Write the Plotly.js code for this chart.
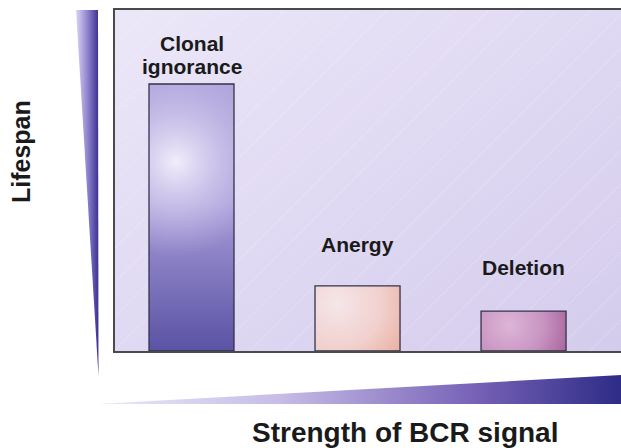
<!DOCTYPE html>
<html>
<head>
<meta charset="utf-8">
<script src="https://cdn.plot.ly/plotly-3.0.1.min.js"></script>
<style>html,body{margin:0;padding:0;background:#fff;}#chart{width:621px;height:448px;}</style>
</head>
<body>
<div id="chart"></div>
<script>
// ---- data ----
var categories = ['Clonal ignorance', 'Anergy', 'Deletion'];
var barLabels = [['Clonal', 'ignorance'], ['Anergy'], ['Deletion']];
var lifespan = [78.3, 19.1, 11.7];
var xTitle = 'Strength of BCR signal';
var yTitle = 'Lifespan';

// ---- layout constants ----
var W = 621, H = 448;
var M = {l: 115, r: 0, t: 10, b: 97};
var PW = W - M.l - M.r, PH = H - M.t - M.b;
var barWidth = 0.512;
var FONT = '"Liberation Sans", Arial, sans-serif';

function svgURI(s) { return 'data:image/svg+xml;charset=utf-8,' + encodeURIComponent(s); }

// background of plot area with faint diagonal lines
var bgSvg = '<svg xmlns="http://www.w3.org/2000/svg" width="' + PW + '" height="' + PH + '" viewBox="0 0 ' + PW + ' ' + PH + '" preserveAspectRatio="none">' +
  '<defs><linearGradient id="g" x1="0" y1="0" x2="1" y2="1">' +
  '<stop offset="0" stop-color="#ece7f8"/><stop offset="0.5" stop-color="#e0d9f3"/><stop offset="1" stop-color="#d4ccec"/></linearGradient>' +
  '<pattern id="p" width="34" height="34" patternUnits="userSpaceOnUse">' +
  '<line x1="-1" y1="35" x2="35" y2="-1" stroke="#ffffff" stroke-opacity="0.35" stroke-width="0.6"/></pattern></defs>' +
  '<rect width="' + PW + '" height="' + PH + '" fill="url(#g)"/>' +
  '<rect width="' + PW + '" height="' + PH + '" fill="url(#p)"/></svg>';

// decorative wedges around the plot
var wedgeSvg = '<svg xmlns="http://www.w3.org/2000/svg" width="' + W + '" height="' + H + '" viewBox="0 0 ' + W + ' ' + H + '" preserveAspectRatio="none">' +
  '<defs><linearGradient id="lw" gradientUnits="userSpaceOnUse" x1="76" y1="0" x2="98" y2="0">' +
  '<stop offset="0" stop-color="#dcd5f3"/><stop offset="0.5" stop-color="#9487d0"/><stop offset="1" stop-color="#3d3494"/></linearGradient>' +
  '<linearGradient id="bw" gradientUnits="userSpaceOnUse" x1="97" y1="0" x2="621" y2="0">' +
  '<stop offset="0" stop-color="#ebe8f8"/><stop offset="0.35" stop-color="#c6bce6"/><stop offset="0.72" stop-color="#7762b7"/><stop offset="1" stop-color="#2d2c86"/></linearGradient></defs>' +
  '<polygon points="76,10 98,10 98.5,376" fill="url(#lw)"/>' +
  '<polygon points="97,404 621,375 621,404" fill="url(#bw)"/></svg>';

var barSvgs = [
  '<svg xmlns="http://www.w3.org/2000/svg" width="85" height="267" viewBox="0 0 85 267" preserveAspectRatio="none"><defs>' +
  '<linearGradient id="a" x1="0" y1="0" x2="0" y2="1"><stop offset="0" stop-color="#b1a5dc"/><stop offset="0.45" stop-color="#a79bd8"/><stop offset="1" stop-color="#5a52a4"/></linearGradient>' +
  '<radialGradient id="r" gradientUnits="userSpaceOnUse" cx="27" cy="78" r="95"><stop offset="0" stop-color="#f1eefb" stop-opacity="1"/><stop offset="0.6" stop-color="#d8d1f0" stop-opacity="0.45"/><stop offset="1" stop-color="#c8bfea" stop-opacity="0"/></radialGradient></defs>' +
  '<rect width="85" height="267" fill="url(#a)"/><rect width="85" height="267" fill="url(#r)"/></svg>',
  '<svg xmlns="http://www.w3.org/2000/svg" width="85" height="65" viewBox="0 0 85 65" preserveAspectRatio="none"><defs>' +
  '<radialGradient id="r" gradientUnits="userSpaceOnUse" cx="22" cy="18" r="75"><stop offset="0" stop-color="#f5e6ea"/><stop offset="0.6" stop-color="#f1d0cd"/><stop offset="1" stop-color="#ebb3a7"/></radialGradient></defs>' +
  '<rect width="85" height="65" fill="url(#r)"/></svg>',
  '<svg xmlns="http://www.w3.org/2000/svg" width="85" height="40" viewBox="0 0 85 40" preserveAspectRatio="none"><defs>' +
  '<radialGradient id="r" gradientUnits="userSpaceOnUse" cx="28" cy="14" r="62"><stop offset="0" stop-color="#ddb6d8"/><stop offset="0.55" stop-color="#c894c2"/><stop offset="1" stop-color="#a9679f"/></radialGradient></defs>' +
  '<rect width="85" height="40" fill="url(#r)"/></svg>'
];

var xIdx = categories.map(function (c, i) { return i; });

var images = [
  {source: svgURI(bgSvg), xref: 'x domain', yref: 'y domain', x: 0, y: 1, sizex: 1, sizey: 1,
   xanchor: 'left', yanchor: 'top', sizing: 'stretch', layer: 'below'},
  {source: svgURI(wedgeSvg), xref: 'paper', yref: 'paper', x: -M.l / PW, y: 1 + M.t / PH,
   sizex: W / PW, sizey: H / PH, xanchor: 'left', yanchor: 'top', sizing: 'stretch', layer: 'below'}
];
categories.forEach(function (c, i) {
  images.push({source: svgURI(barSvgs[i]), xref: 'x', yref: 'y', x: xIdx[i] - barWidth / 2, y: lifespan[i],
    sizex: barWidth, sizey: lifespan[i], xanchor: 'left', yanchor: 'top', sizing: 'stretch', layer: 'below'});
});

var annotations = [];
var labelGap = [4, 28, 30];
barLabels.forEach(function (lines, i) {
  lines.forEach(function (t, k) {
    annotations.push({x: xIdx[i], y: lifespan[i], xref: 'x', yref: 'y', text: '<b>' + t + '</b>',
      showarrow: false, xanchor: 'center', yanchor: 'bottom',
      yshift: labelGap[i] + (lines.length - 1 - k) * 23,
      font: {family: FONT, size: 21, color: '#1a1a1a'}});
  });
});
annotations.push({xref: 'paper', yref: 'paper', x: (405 - M.l) / PW, y: (M.t + PH - 432) / PH,
  text: '<b>' + xTitle + '</b>', showarrow: false, xanchor: 'center', yanchor: 'middle',
  font: {family: FONT, size: 28, color: '#1a1a1a'}});
annotations.push({xref: 'paper', yref: 'paper', x: (21 - M.l) / PW, y: (M.t + PH - 152) / PH,
  text: '<b>' + yTitle + '</b>', showarrow: false, xanchor: 'center', yanchor: 'middle', textangle: -90,
  font: {family: FONT, size: 25, color: '#1a1a1a'}});

var trace = {
  type: 'bar', x: xIdx, y: lifespan, width: barWidth, text: categories, hoverinfo: 'none',
  textposition: 'none',
  marker: {color: 'rgba(0,0,0,0)', line: {color: '#35334a', width: 1.3}}
};

var layout = {
  width: W, height: H, margin: M,
  paper_bgcolor: '#ffffff', plot_bgcolor: 'rgba(0,0,0,0)',
  showlegend: false,
  xaxis: {range: [-0.4608, 2.587], showgrid: false, zeroline: false, showticklabels: false, ticks: '',
    showline: true, mirror: true, linecolor: '#4a4a4a', linewidth: 1.6, fixedrange: true},
  yaxis: {range: [0, 100], showgrid: false, zeroline: false, showticklabels: false, ticks: '',
    showline: true, linecolor: '#4a4a4a', linewidth: 1.6, fixedrange: true},
  images: images,
  annotations: annotations
};

Plotly.newPlot('chart', [trace], layout, {displayModeBar: false, staticPlot: true});
</script>
</body>
</html>
